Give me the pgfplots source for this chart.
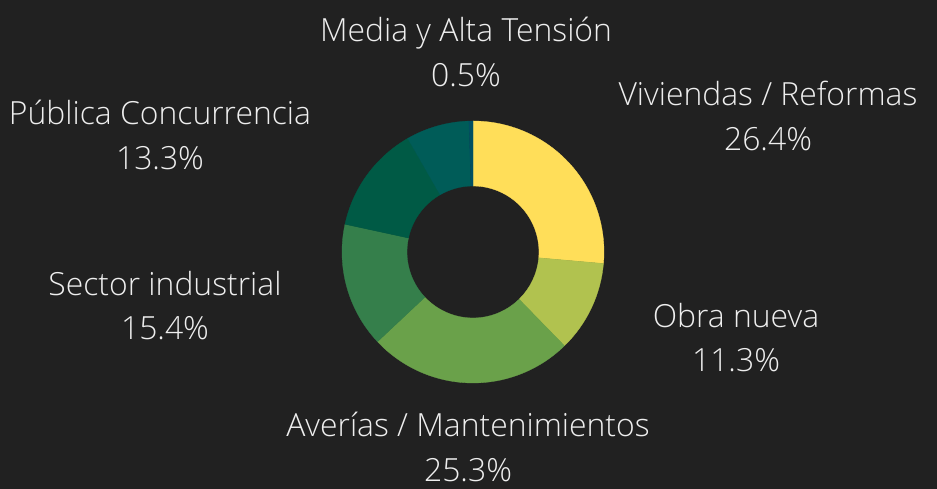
\documentclass[border=0pt]{standalone}
\usepackage{pgfplots}
\pgfplotsset{compat=1.18}
\usepackage{fontspec}
\setmainfont{Open Sans}[UprightFont=* Light]
\definecolor{bg}{HTML}{212121}
\definecolor{cA}{HTML}{FFDE59}
\definecolor{cB}{HTML}{B1C24F}
\definecolor{cC}{HTML}{6AA14A}
\definecolor{cD}{HTML}{357F4B}
\definecolor{cE}{HTML}{005A45}
\definecolor{cF}{HTML}{005C58}
\definecolor{cG}{HTML}{024F62}
\definecolor{txt}{HTML}{EEEEEE}
\begin{document}
\begin{tikzpicture}
\begin{axis}[x=1bp,y=1bp,xmin=0,xmax=937,ymin=0,ymax=489,hide axis,clip=false]
\fill[bg] (axis cs:0,0) rectangle (axis cs:937,489);
\pgfplotsextra{
  \gdef\cum{0}
  \foreach \v/\c in {26.4/cA, 11.3/cB, 25.3/cC, 15.4/cD, 13.3/cE, 7.8/cF, 0.5/cG}{
    \pgfmathsetmacro\sa{90-3.6*\cum}
    \pgfmathsetmacro\ea{90-3.6*(\cum+\v)}
    \fill[\c, draw=\c, line width=0.3bp] (axis cs:473,237) ++(\sa:131bp) arc[start angle=\sa,end angle=\ea,radius=131bp] -- ++(\ea:-65bp) arc[start angle=\ea,end angle=\sa,radius=66bp] -- cycle;
    \pgfmathsetmacro\newcum{\cum+\v}
    \xdef\cum{\newcum}
  }
}
\begin{scope}[every node/.style={anchor=base, text=txt, font=\fontsize{32}{38}\selectfont, inner sep=0pt}]
\node at (axis cs:466,447) {Media y Alta Tensión};
\node at (axis cs:466,402) {0.5\%};
\node at (axis cs:768,383) {Viviendas / Reformas};
\node at (axis cs:768,338) {26.4\%};
\node at (axis cs:160,364) {Pública Concurrencia};
\node at (axis cs:160,319) {13.3\%};
\node at (axis cs:165,193) {Sector industrial};
\node at (axis cs:165,149) {15.4\%};
\node at (axis cs:736,161) {Obra nueva};
\node at (axis cs:736,117) {11.3\%};
\node at (axis cs:468,52) {Averías / Mantenimientos};
\node at (axis cs:468,7) {25.3\%};
\end{scope}
\end{axis}
\end{tikzpicture}
\end{document}
